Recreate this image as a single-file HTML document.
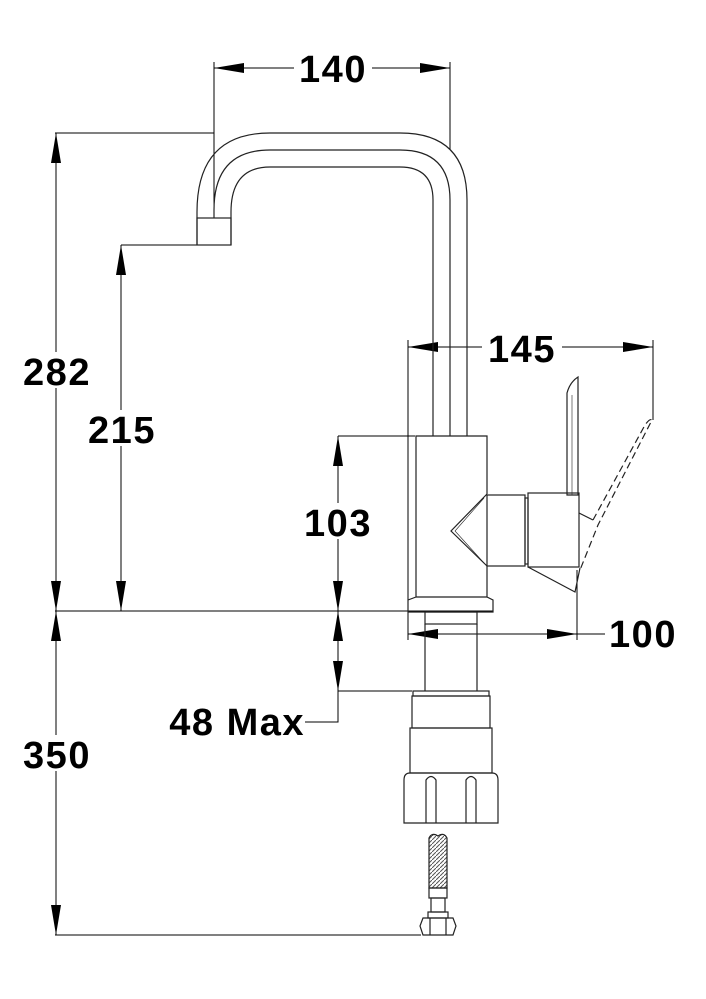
<!DOCTYPE html>
<html><head><meta charset="utf-8"><style>
html,body{margin:0;padding:0;background:#fff;}
svg{display:block;}
text{font-family:"Liberation Sans",Arial,sans-serif;font-weight:bold;font-size:38px;letter-spacing:1.5px;fill:#000;}
</style></head><body>
<svg width="706" height="999" viewBox="0 0 706 999" xmlns="http://www.w3.org/2000/svg">
<defs>
<marker id="a" viewBox="0 0 30 10" refX="30" refY="5" markerWidth="30" markerHeight="10" markerUnits="userSpaceOnUse" orient="auto-start-reverse"><path d="M0,0 L30,5 L0,10 Z" fill="#000"/></marker>
<pattern id="h" width="4" height="4" patternUnits="userSpaceOnUse"><path d="M0,4 L4,0" stroke="#555" stroke-width="1"/></pattern>
</defs>
<g stroke="#000" stroke-width="1" fill="none">
<line x1="55" y1="133" x2="214" y2="133"/>
<line x1="121" y1="245" x2="197" y2="245"/>
<line x1="55" y1="611" x2="493" y2="611"/>
<line x1="338" y1="436" x2="415" y2="436"/>
<line x1="338" y1="691" x2="412" y2="691"/>
<line x1="55" y1="935" x2="421" y2="935"/>
<line x1="214" y1="62" x2="214" y2="218"/>
<line x1="450" y1="62" x2="450" y2="150"/>
<line x1="408" y1="340" x2="408" y2="640"/>
<line x1="653" y1="340" x2="653" y2="420"/>
<line x1="577" y1="570" x2="577" y2="640"/>
<line x1="214" y1="68" x2="450" y2="68" marker-start="url(#a)" marker-end="url(#a)"/>
<line x1="408" y1="347" x2="440" y2="347" marker-start="url(#a)"/>
<line x1="440" y1="347" x2="622" y2="347"/>
<line x1="622" y1="347" x2="653" y2="347" marker-end="url(#a)"/>
<line x1="408" y1="634" x2="577" y2="634" marker-start="url(#a)" marker-end="url(#a)"/>
<line x1="577" y1="634" x2="605" y2="634"/>
<line x1="56" y1="133" x2="56" y2="611" marker-start="url(#a)" marker-end="url(#a)"/>
<line x1="56" y1="611" x2="56" y2="935" marker-start="url(#a)" marker-end="url(#a)"/>
<line x1="121" y1="245" x2="121" y2="611" marker-start="url(#a)" marker-end="url(#a)"/>
<line x1="338" y1="436" x2="338" y2="611" marker-start="url(#a)" marker-end="url(#a)"/>
<line x1="338" y1="611" x2="338" y2="643" marker-start="url(#a)"/>
<line x1="338" y1="643" x2="338" y2="656"/>
<line x1="338" y1="656" x2="338" y2="691" marker-end="url(#a)"/>
<polyline points="338,691 338,722 305,722"/>
</g>
<g stroke="#222" stroke-width="1.2" fill="none">
<path d="M197,245 L197,212 Q197,133 270,133 L400,133 Q467,133 467,200 L467,436"/>
<path d="M214,218 L214,210 Q214,150 270,150 L400,150 Q450,150 450,200 L450,436"/>
<path d="M231,245 L231,212 Q231,167 270,167 L400,167 Q433,167 433,200 L433,436"/>
<rect x="197" y="218" width="34" height="27"/>
<path d="M487,494 L487,436 L416,436 L416,597 L408,600 L408,612 L493,612 L493,600 L487,597 L487,566"/>
<line x1="416" y1="597" x2="487" y2="597"/>
<path d="M487,494 L451,531 L487,566"/>
<path d="M484,498 L455,531 L484,563" stroke-width="0.6"/>
<rect x="487" y="495" width="38" height="71"/>
<rect x="525" y="498" width="3" height="66"/>
<rect x="528" y="493" width="51" height="74"/>
<path d="M567,495 L567,393 Q570,382 578,377 L578,495 Z"/>
<line x1="572" y1="395" x2="572" y2="495" stroke-width="0.6"/>
<path d="M528,567 L575,592 L580,568"/>
<path d="M579,513 L593,520" />
<path d="M593,520 L645,425 Q650,418 652,420 L598,525 L580,570" stroke-dasharray="7,4"/>
<rect x="425" y="612" width="52" height="12"/>
<line x1="425" y1="624" x2="425" y2="691"/>
<line x1="477" y1="624" x2="477" y2="691"/>
<rect x="413" y="691" width="76" height="5"/>
<rect x="412" y="696" width="78" height="32"/>
<rect x="410" y="728" width="82" height="45"/>
<path d="M404,823 L404,780 Q404,773 410,773 L492,773 Q498,773 498,780 L498,823 Z"/>
<path d="M426,823 L426,780 Q431,773 436,780 L436,823"/>
<path d="M466,823 L466,780 Q471,773 476,780 L476,823"/>
<path d="M429,888 L429,838 Q432,832 438,836 Q444,832 447,838 L447,888 Z" fill="url(#h)"/>
<rect x="429" y="888" width="18" height="10"/>
<rect x="431" y="898" width="14" height="14"/>
<rect x="428" y="912" width="20" height="6"/>
<path d="M423,918 L453,918 L456,926 L453,935 L423,935 L420,926 Z"/>
<line x1="430" y1="918" x2="430" y2="935"/><line x1="446" y1="918" x2="446" y2="935"/>
</g>
<g>
<rect x="294" y="50" width="78" height="36" fill="#fff"/>
<text x="333" y="82" text-anchor="middle">140</text>
<rect x="482" y="330" width="80" height="34" fill="#fff"/>
<text x="522" y="362" text-anchor="middle">145</text>
<text x="643" y="647" text-anchor="middle">100</text>
<rect x="20" y="352" width="76" height="36" fill="#fff"/>
<text x="57" y="385" text-anchor="middle">282</text>
<rect x="84" y="410" width="76" height="36" fill="#fff"/>
<text x="122" y="443" text-anchor="middle">215</text>
<rect x="300" y="503" width="76" height="36" fill="#fff"/>
<text x="338" y="536" text-anchor="middle">103</text>
<text x="305" y="735" text-anchor="end">48 Max</text>
<rect x="20" y="735" width="76" height="36" fill="#fff"/>
<text x="57" y="768" text-anchor="middle">350</text>
</g>
</svg>
</body></html>
